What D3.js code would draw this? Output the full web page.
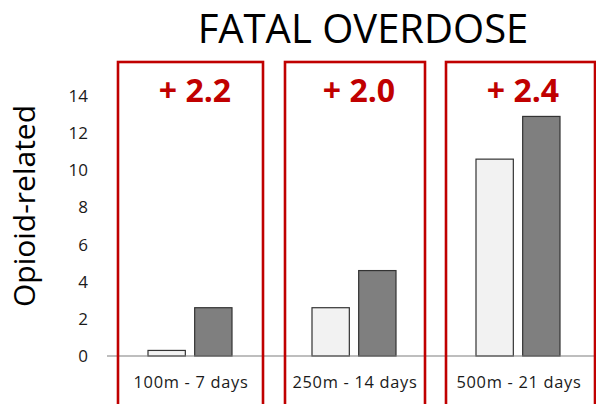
<!DOCTYPE html>
<html>
<head>
<meta charset="utf-8">
<script src="https://cdn.jsdelivr.net/npm/d3@7"></script>
<style>
  html, body { margin: 0; padding: 0; background: #fff; }
  svg { display: block; }
</style>
</head>
<body>
<svg id="chart" width="596" height="404"></svg>
<script>
// Distance / time windows and the two compared groups
const categories = ["100m - 7 days", "250m - 14 days", "500m - 21 days"];
const seriesKeys = ["before", "after"];
const beforeValues = [0.3, 2.6, 10.6];
const afterValues = [2.6, 4.6, 12.9];
const deltaLabels = ["+ 2.2", "+ 2.0", "+ 2.4"];
const yTicks = [0, 2, 4, 6, 8, 10, 12, 14];

const titleText = "FATAL OVERDOSE";
const yTitle = "Opioid-related";

const red = "#c00000";
const fills = { before: "#f2f2f2", after: "#7f7f7f" };

const svg = d3.select("#chart");

const x = d3.scaleBand().domain(categories).range([108, 600]).paddingInner(0).paddingOuter(0);
const inner = d3.scaleBand().domain(seriesKeys).range([40, 124]).paddingInner(0.2);
const y = d3.scaleLinear().domain([0, 14]).range([356, 96]);

const rows = categories.map((c, i) => ({
  cat: c,
  before: beforeValues[i],
  after: afterValues[i],
  delta: deltaLabels[i]
}));

// Title
svg.append("text")
  .attr("x", 363).attr("y", 43)
  .attr("text-anchor", "middle")
  .attr("font-family", "'Open Sans', sans-serif")
  .attr("font-size", 40)
  .attr("fill", "#000")
  .text(titleText);

// Y axis title
svg.append("text")
  .attr("transform", "translate(35,206) rotate(-90)")
  .attr("text-anchor", "middle")
  .attr("font-family", "'Open Sans', sans-serif")
  .attr("font-size", 30)
  .attr("fill", "#000")
  .text(yTitle);

// Y axis tick labels (no domain line)
const yAxis = d3.axisLeft(y).tickValues(yTicks).tickSize(0).tickPadding(0);
const yg = svg.append("g").attr("transform", "translate(88,0)").call(yAxis);
yg.select(".domain").remove();
yg.selectAll("text")
  .attr("font-family", "'Open Sans', sans-serif")
  .attr("font-size", 17)
  .attr("fill", "#1a1a1a");

// Bars
const groups = svg.append("g").selectAll("g")
  .data(rows).join("g")
  .attr("transform", d => `translate(${x(d.cat)},0)`);

groups.selectAll("rect")
  .data(d => seriesKeys.map(k => ({ key: k, value: d[k] })))
  .join("rect")
  .attr("x", d => inner(d.key))
  .attr("y", d => y(d.value))
  .attr("width", inner.bandwidth())
  .attr("height", d => y(0) - y(d.value))
  .attr("fill", d => fills[d.key])
  .attr("stroke", "#333")
  .attr("stroke-width", 1.2);

// Baseline
svg.append("line")
  .attr("x1", 107).attr("x2", 596)
  .attr("y1", y(0)).attr("y2", y(0))
  .attr("stroke", "#7f7f7f")
  .attr("stroke-width", 1.2);

// Category labels
svg.append("g").selectAll("text")
  .data(rows).join("text")
  .attr("x", d => x(d.cat) + x.bandwidth() / 2 + 1)
  .attr("y", 388)
  .attr("text-anchor", "middle")
  .attr("font-family", "'Open Sans', sans-serif")
  .attr("font-size", 16.4)
  .attr("letter-spacing", 0.7)
  .attr("fill", "#1a1a1a")
  .text(d => d.cat);

// Red highlight boxes around each group
const boxLeft = [10, 13, 10];
const boxWidth = [145, 140, 149];
svg.append("g").selectAll("rect")
  .data(rows).join("rect")
  .attr("x", (d, i) => x(d.cat) + boxLeft[i])
  .attr("y", 62)
  .attr("width", (d, i) => boxWidth[i])
  .attr("height", 380)
  .attr("fill", "none")
  .attr("stroke", red)
  .attr("stroke-width", 2.6);

// Difference labels
svg.append("g").selectAll("text")
  .data(rows).join("text")
  .attr("x", d => x(d.cat) + x.bandwidth() / 2 + 5)
  .attr("y", 102)
  .attr("text-anchor", "middle")
  .attr("font-family", "'Open Sans', sans-serif")
  .attr("font-weight", 700)
  .attr("font-size", 32)
  .attr("fill", red)
  .text(d => d.delta);
</script>
</body>
</html>
